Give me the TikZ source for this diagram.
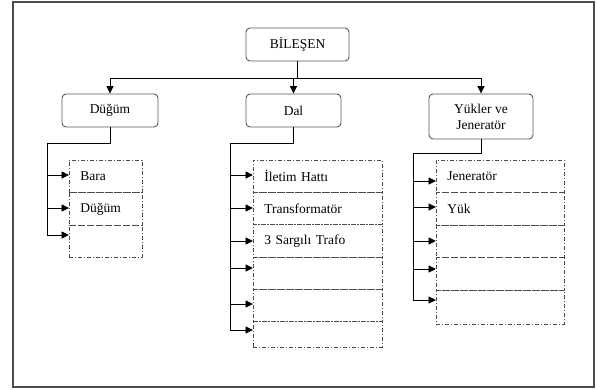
\documentclass[tikz,border=0pt]{standalone}
\usepackage{fontspec}
\setmainfont{Liberation Serif}
\usetikzlibrary{arrows.meta, calc}

\begin{document}
\begin{tikzpicture}[x=1pt, y=-1pt, font=\fontsize{13.5}{16}\selectfont,
	kutu/.style={draw=black!65, line width=0.9pt, rounded corners=4pt, minimum height=33pt, inner sep=2pt, align=center},
	alt/.style={draw=black!70, line width=0.7pt, dash pattern=on 4pt off 2pt on 1pt off 2pt, anchor=north west, inner xsep=11pt, inner ysep=0pt, align=left},
	hat/.style={line width=0.9pt},
	ok/.style={hat, -{Triangle[length=7.5pt,width=7pt]}}]
				\useasboundingbox (0,0) rectangle (598,389);
				% Frame
				\draw [black!70, line width=1.2pt] (13,2) rectangle (594,387);
				
				% Main boxes
				\node [kutu, minimum width=103pt] (bilesen) at (297.5,44.5) {BİLEŞEN};
				\node [kutu, minimum width=96pt] (dugum) at (110,110.5) {Düğüm};
				\node [kutu, minimum width=95pt] (dal) at (293.5,110.5) {Dal};
				\node [kutu, minimum width=104pt, minimum height=45pt] (yuk) at (481,116.5) {Yükler ve\\Jeneratör};
				
				% Top connectors
				\coordinate (hub) at (297.5,78);
				\draw [hat] (bilesen.south) -- (hub);
				\draw [hat] (dugum.north |- hub) -- (yuk.north |- hub);
				\foreach \k in {dugum, dal, yuk}
					\draw [ok] (\k.north |- hub) -- (\k.north);
				
				% Sub boxes
				\foreach \i/\ust/\boy/\yazi in {1/160/32/Bara, 2/192/33/Düğüm, 3/225/32/{}}
					\node [alt, minimum width=73pt, minimum height=\boy pt, text width=51pt] (dg\i) at (69,\ust) {\yazi};
				\foreach \i/\ust/\boy/\yazi in {1/160/32/İletim Hattı, 2/192/32/Transformatör, 3/224/33/3 Sargılı Trafo, 4/257/32/{}, 5/289/32/{}, 6/321/26/{}}
					\node [alt, minimum width=129pt, minimum height=\boy pt, text width=107pt] (dl\i) at (253,\ust) {\yazi};
				\foreach \i/\ust/\boy/\yazi in {1/160/32/Jeneratör, 2/192/33/Yük, 3/225/32/{}, 4/257/33/{}, 5/290/34/{}}
					\node [alt, minimum width=128pt, minimum height=\boy pt, text width=106pt] (yk\i) at (436,\ust) {\yazi};
				
				% Arrows
				\foreach \i/\yy in {1/175, 2/208, 3/235}
				{
					\coordinate (dga\i) at (47,\yy);
					\draw [ok] (dga\i) -- (dga\i -| dg\i.west);
				}
				\foreach \i/\yy in {1/175, 2/208, 3/241, 4/268, 5/304, 6/330}
				{
					\coordinate (dla\i) at (230,\yy);
					\draw [ok] (dla\i) -- (dla\i -| dl\i.west);
				}
				\foreach \i/\yy in {1/181, 2/207, 3/241, 4/269, 5/300}
				{
					\coordinate (yka\i) at (413,\yy);
					\draw [ok] (yka\i) -- (yka\i -| yk\i.west);
				}
				
				% Spines
				\coordinate (dgs) at (47,143);
				\coordinate (dls) at (230,143);
				\coordinate (yks) at (413,153);
				\draw [hat] (dugum.south) |- (dgs) -- (dga3);
				\draw [hat] (dal.south) |- (dls) -- (dla6);
				\draw [hat] (yuk.south) |- (yks) -- (yka5);
			\end{tikzpicture}
\end{document}
